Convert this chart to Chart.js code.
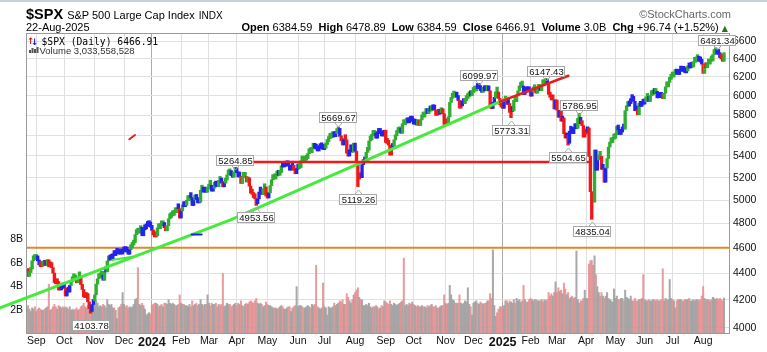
<!DOCTYPE html>
<html><head><meta charset="utf-8">
<script src="https://cdn.jsdelivr.net/npm/chart.js@4.4.1/dist/chart.umd.min.js"></script>
<style>
html,body{margin:0;padding:0;background:#fff;}
#wrap{position:relative;width:767px;height:352px;overflow:hidden;font-family:"Liberation Sans",Arial,sans-serif;color:#000;}
#topbar{position:absolute;left:0;top:0;width:767px;height:2px;background:#c5d0da;}
canvas{position:absolute;left:0;top:0;}
.t{position:absolute;white-space:nowrap;}
.hdr b{font-weight:bold;}
</style></head><body>
<div id="wrap">
<canvas id="c" width="767" height="352"></canvas>
<div id="topbar"></div>
<div class="t" style="left:26px;top:6px;font-size:14.5px;line-height:16px;"><b>$SPX</b> <span style="font-size:11px">S&amp;P 500 Large Cap Index</span> <span style="font-size:10px">INDX</span></div>
<div class="t" style="left:26px;top:21px;font-size:11px;line-height:13px;">22-Aug-2025</div>
<div class="t" style="right:36px;top:8px;font-size:11px;line-height:13px;color:#666;">&copy;StockCharts.com</div>
<div class="t hdr" style="right:39px;top:21px;font-size:11px;line-height:13px;"><b>Open</b> 6384.59&nbsp; <b>High</b> 6478.89&nbsp; <b>Low</b> 6384.59&nbsp; <b>Close</b> 6466.91&nbsp; <b>Volume</b> 3.0B&nbsp; <b>Chg</b> +96.74 (+1.52%) <span style="font-family:'DejaVu Sans';font-size:8px;color:#2d6e2d">&#9650;</span></div>
</div>
<script>
// ---- DATA (daily closes, trading days from 21-Aug-2023 to 22-Aug-2025) ----
const closes = [
// Aug 2023
4399.77,4387.55,4436.01,4376.31,4405.71,4433.31,4497.63,4514.87,4507.66,
// Sep 2023
4515.77,4496.83,4465.48,4451.14,4457.49,4487.46,4461.90,4467.44,4505.10,4450.32,4453.53,4443.95,4402.20,4330.00,4320.06,4337.44,4273.53,4274.51,4299.70,4288.05,
// Oct 2023
4288.39,4229.45,4263.75,4258.19,4308.50,4335.66,4358.24,4376.95,4349.61,4327.78,4373.63,4373.20,4314.60,4278.00,4224.16,4217.04,4247.68,4186.77,4137.23,4117.37,4166.82,4193.80,
// Nov 2023
4237.86,4317.78,4358.34,4365.98,4378.38,4382.78,4347.35,4415.24,4411.55,4495.70,4502.88,4508.24,4514.02,4547.38,4538.19,4556.62,4559.34,4550.43,4554.89,4550.58,4567.80,
// Dec 2023
4594.63,4569.78,4567.18,4549.34,4585.59,4604.37,4622.44,4643.70,4707.09,4719.55,4719.19,4740.56,4768.37,4698.35,4746.75,4754.63,4774.75,4781.58,4783.35,4769.83,
// Jan 2024
4742.83,4704.81,4688.68,4697.24,4763.54,4756.50,4783.45,4780.24,4783.83,4765.98,4739.21,4780.94,4839.81,4850.43,4864.60,4868.55,4894.16,4890.97,4927.93,4924.97,4845.65,
// Feb 2024
4906.19,4958.61,4942.81,4954.23,4995.06,4997.91,5026.61,5021.84,4953.17,5000.62,5029.73,5005.57,4975.51,4981.80,5087.03,5088.80,5069.53,5078.18,5069.76,5096.27,
// Mar 2024
5137.08,5130.95,5078.65,5104.76,5157.36,5123.69,5117.94,5175.27,5165.31,5150.48,5117.09,5149.42,5178.51,5224.62,5241.53,5234.18,5218.19,5203.58,5248.49,5254.35,
// Apr 2024
5243.77,5205.81,5211.49,5147.21,5204.34,5202.39,5209.91,5160.64,5199.06,5123.41,5061.82,5051.41,5022.21,5011.12,4967.23,5010.60,5070.55,5071.63,5048.42,5099.96,5116.17,5035.69,
// May 2024
5018.39,5064.20,5127.79,5180.74,5187.70,5187.67,5214.08,5222.68,5221.42,5246.68,5308.15,5297.10,5303.27,5308.13,5321.41,5307.01,5267.84,5304.72,5306.04,5266.95,5235.48,5277.51,
// Jun 2024
5283.40,5291.34,5354.03,5352.96,5346.99,5360.79,5375.32,5421.03,5433.74,5431.60,5473.23,5487.03,5473.17,5464.62,5447.87,5469.30,5477.90,5482.87,5460.48,
// Jul 2024
5475.09,5509.01,5537.02,5567.19,5572.85,5576.98,5633.91,5584.54,5615.35,5631.22,5667.20,5588.27,5544.59,5505.00,5564.41,5555.74,5427.13,5399.22,5459.10,5463.54,5436.44,5522.30,
// Aug 2024
5446.68,5346.56,5186.33,5240.03,5199.50,5319.31,5344.16,5344.39,5434.43,5455.21,5543.22,5554.25,5608.25,5597.12,5620.85,5570.64,5634.61,5616.84,5625.80,5592.18,5591.96,5648.40,
// Sep 2024
5528.93,5520.07,5503.41,5408.42,5471.05,5495.52,5554.13,5595.76,5626.02,5633.09,5634.58,5618.26,5713.64,5702.55,5718.57,5732.93,5722.26,5745.37,5738.17,5762.48,
// Oct 2024
5708.75,5709.54,5699.94,5751.07,5695.94,5751.13,5792.04,5780.05,5815.03,5859.85,5815.26,5842.47,5841.47,5864.67,5853.98,5851.20,5797.42,5809.86,5808.12,5823.52,5832.92,5813.67,5705.45,
// Nov 2024
5728.80,5712.69,5782.76,5929.04,5973.10,5995.54,6001.35,5983.99,5985.38,5949.17,5870.62,5893.62,5916.98,5917.11,5948.71,5969.34,5987.37,6021.63,5998.74,6032.38,
// Dec 2024
6047.15,6049.88,6086.49,6075.11,6090.27,6052.85,6034.91,6084.19,6051.25,6051.09,6074.08,6050.61,5872.16,5867.08,5930.85,5974.07,6040.04,6037.59,5970.84,5906.94,5881.63,
// Jan 2025
5868.55,5942.47,5975.38,5909.03,5918.25,5827.04,5836.22,5842.91,5949.91,5937.34,5996.66,6049.24,6086.37,6118.71,6101.24,6012.28,6067.70,6039.31,6071.17,6040.53,
// Feb 2025
5994.57,6037.88,6061.48,6083.57,6025.99,6066.44,6068.50,6051.97,6115.07,6114.63,6129.58,6144.15,6117.52,6013.13,5983.25,5955.25,5956.06,5861.57,5954.50,
// Mar 2025
5849.72,5778.15,5842.63,5738.52,5770.20,5614.56,5572.07,5599.30,5521.52,5638.94,5675.12,5614.66,5675.29,5662.89,5667.56,5767.57,5776.65,5712.20,5693.31,5580.94,5611.85,
// Apr 2025
5633.07,5670.97,5396.52,5074.08,5062.25,4982.77,5456.90,5268.05,5363.36,5405.97,5396.63,5275.70,5282.70,5158.20,5287.76,5375.86,5484.77,5525.21,5528.75,5560.83,5569.06,
// May 2025
5604.14,5686.67,5650.38,5606.91,5631.28,5663.94,5659.91,5844.19,5886.55,5892.58,5916.93,5958.38,5963.60,5940.46,5844.61,5842.01,5802.82,5921.54,5888.55,5912.17,5911.69,
// Jun 2025
5935.94,5970.37,5970.81,5939.30,6000.36,6005.88,6038.81,6022.24,6045.26,5976.97,6033.11,5982.72,5980.87,5967.84,6025.17,6092.18,6092.16,6141.02,6173.07,6204.95,
// Jul 2025
6198.01,6227.42,6279.35,6229.98,6225.52,6263.26,6280.46,6259.75,6268.56,6243.76,6263.70,6297.36,6296.79,6305.60,6309.62,6358.91,6363.35,6388.64,6389.77,6370.86,6362.90,6339.39,
// Aug 2025
6238.01,6329.94,6299.19,6345.06,6340.00,6389.45,6373.45,6445.76,6466.58,6468.54,6449.80,6449.15,6411.37,6395.78,6370.17,6466.91
];

// daily volume, billions of shares
const volumesB = [
2.1,2.0,2.2,2.4,2.1,1.9,2.2,2.1,2.3,
1.9,2.1,2.2,2.1,2.0,2.0,2.1,2.2,2.3,4.2,2.0,2.1,2.3,2.5,2.3,2.1,2.4,2.3,2.2,2.3,
2.2,2.3,2.2,2.1,2.3,2.0,2.1,2.0,2.1,2.2,2.0,2.1,2.3,2.4,2.6,2.3,2.2,2.4,2.5,2.4,2.3,2.6,
2.7,2.8,2.6,2.3,2.4,2.3,2.5,2.4,2.2,2.9,2.5,2.4,2.5,2.2,2.2,2.0,1.3,2.2,2.3,2.5,3.5,
2.5,2.3,2.4,2.2,2.3,2.2,2.3,2.5,2.9,3.0,5.6,2.5,2.4,2.6,2.4,2.1,1.6,1.7,1.8,1.7,
2.4,2.5,2.6,2.6,2.5,2.3,2.4,2.5,2.3,2.6,2.6,2.5,2.9,2.6,2.5,2.6,2.5,2.4,2.4,2.5,3.3,
2.6,2.5,2.5,2.4,2.4,2.3,2.5,2.3,2.8,2.4,2.5,2.6,2.4,2.5,2.9,2.5,2.4,2.5,2.5,3.3,
2.6,2.4,2.6,2.5,2.5,2.6,2.3,2.5,2.4,2.5,5.1,2.3,2.4,2.6,2.5,2.5,2.3,2.4,2.5,2.6,
2.4,2.6,2.5,2.8,2.4,2.3,2.5,2.6,2.5,2.7,2.8,2.7,2.6,2.8,3.0,2.6,2.5,2.6,2.5,2.3,2.4,2.7,
2.5,2.4,2.4,2.3,2.2,2.2,2.2,2.1,2.2,2.3,2.4,2.3,2.1,2.1,2.2,2.3,2.3,1.9,2.2,2.3,2.4,4.0,
2.3,2.4,2.4,2.3,2.2,2.2,2.3,2.4,2.3,2.2,2.5,2.4,2.5,5.8,2.3,2.2,2.1,2.2,4.3,
2.3,2.2,1.6,2.3,2.2,2.2,2.3,2.6,2.4,2.5,2.6,2.8,2.7,2.9,2.5,2.5,3.4,3.1,2.8,2.6,2.9,3.3,
3.5,3.7,3.9,3.1,2.9,2.9,2.4,2.4,2.5,2.4,2.6,2.3,2.2,2.3,2.3,2.4,2.3,2.1,2.2,2.4,2.3,2.8,
2.7,2.6,2.5,2.8,2.5,2.4,2.6,2.5,2.4,2.5,2.6,2.7,2.8,6.4,2.4,2.5,2.4,2.6,2.5,2.7,
2.5,2.4,2.3,2.4,2.3,2.3,2.4,2.3,2.3,2.2,2.4,2.3,2.4,2.5,2.3,2.3,2.4,2.2,2.2,2.3,2.4,2.4,3.3,
2.6,2.5,2.6,4.1,3.3,2.9,2.8,2.6,2.6,2.6,3.3,2.6,2.5,2.6,2.8,2.7,3.9,2.5,2.3,1.6,
2.6,2.7,2.8,2.6,2.5,2.7,2.6,2.5,2.6,2.6,2.8,2.8,3.4,3.0,7.1,2.4,1.5,1.8,2.1,2.3,2.3,
2.1,2.4,2.8,2.8,2.6,2.8,2.7,2.6,2.9,2.6,3.0,2.8,2.9,2.7,2.8,4.1,2.9,2.7,2.7,2.9,
3.0,2.9,2.8,2.9,2.9,2.8,2.8,2.8,2.9,2.7,2.9,2.8,2.9,3.5,3.2,3.4,3.2,3.5,4.4,
3.5,3.9,3.6,3.7,3.4,4.3,3.8,3.3,3.5,3.0,3.1,3.2,3.0,3.1,7.0,2.9,2.6,2.8,2.8,3.0,3.7,
3.0,3.0,5.9,6.2,6.2,5.8,6.6,5.0,4.0,3.5,3.2,3.5,3.2,3.0,3.2,3.5,3.0,2.9,2.8,2.7,3.8,
3.0,3.2,2.9,2.9,3.0,3.0,2.8,3.7,3.1,3.0,2.9,3.2,2.8,2.8,3.0,2.8,2.8,2.9,2.9,3.0,5.0,
2.9,2.8,2.8,2.9,2.8,2.8,2.9,2.9,2.8,2.9,2.8,2.8,2.9,5.5,2.8,3.0,2.9,2.9,4.6,3.0,
2.9,2.8,2.2,2.8,2.9,2.9,2.9,2.8,2.8,2.9,2.9,2.9,3.0,2.8,2.8,2.9,2.8,2.9,2.9,2.8,2.9,3.2,
4.0,3.0,2.9,2.9,2.9,2.8,2.9,3.1,3.0,2.9,3.0,2.9,3.0,2.9,2.8,3.03
];

// x-axis month ticks (trading-day index of first session of each month)
const monthTickIndex = [9,29,51,72,92,113,133,153,175,197,216,238,260,280,303,323,344,364,383,404,425,446,466,488];
const monthTickLabels = ['Sep','Oct','Nov','Dec','2024','Feb','Mar','Apr','May','Jun','Jul','Aug','Sep','Oct','Nov','Dec','2025','Feb','Mar','Apr','May','Jun','Jul','Aug'];
const priceTicks = [4000,4200,4400,4600,4800,5000,5200,5400,5600,5800,6000,6200,6400,6600];
const volumeTicksB = [2,4,6,8];

// annotated swing highs / lows
const pivotIndex = [48,152,167,226,240,327,350,375,391,399,408,498];
const pivotValue = [4103.78,5264.85,4953.56,5669.67,5119.26,6099.97,5773.31,6147.43,5504.65,5786.95,4835.04,6481.34];
const pivotSide  = ['low','high','low','high','low','high','low','high','low','high','low','high'];

// drawn trend lines (trading-day index, price)
const greenTrendIdx = [-17.1,148.1,347.8];
const greenTrendPrice = [4142,4829,5975];
const redTrendIdx = [342.1,391.2];
const redTrendPrice = [5937,6212];
const redLevelIdx = [140,405.5];
const redLevelPrice = 5344;
const orangeLevelPrice = 4600;
const minorGreenIdx = [63.6,77.9], minorGreenPrice = [4503,4530];
const minorBlueIdx = [120.6,127.8], minorBluePrice = [4708,4708];
const minorRedIdx = [75.8,79.9], minorRedPrice = [5560,5601];

// ---- derived styling ----
const F = "'Liberation Sans', Arial, sans-serif";
function ema(arr, n){ const k = 2/(n+1); const out=[arr[0]]; for(let i=1;i<arr.length;i++) out.push(arr[i]*k + out[i-1]*(1-k)); return out; }
const e13 = ema(closes,13), e12 = ema(closes,12), e26 = ema(closes,26);
const macd = e12.map((v,i)=>v-e26[i]);
const sig = ema(macd,9);
const hist = macd.map((v,i)=>v-sig[i]);
const GREEN='#2fae2f', RED='#f01818', BLUE='#2323ee';
const barColors = closes.map((c,i)=>{
  if(i===0) return BLUE;
  const eu = e13[i]>e13[i-1], hu = hist[i]>hist[i-1];
  const ed = e13[i]<e13[i-1], hd = hist[i]<hist[i-1];
  return (eu&&hu)?GREEN:((ed&&hd)?RED:BLUE);
});
const pivotMap = {}; pivotIndex.forEach((ix,k)=>pivotMap[ix]=pivotValue[k]);
const priceData = closes.map((c,i)=>{
  const p = i>0?closes[i-1]:c;
  let lo = Math.min(p,c), hi = Math.max(p,c);
  if(pivotMap[i]!==undefined){ lo=Math.min(lo,pivotMap[i]); hi=Math.max(hi,pivotMap[i]); }
  return {x:i, y:[lo,hi]};
});
const volData = volumesB.map((v,i)=>({x:i, y:v*1e9}));
const volColors = closes.map((c,i)=> (i>0 && c<closes[i-1]) ? 'rgba(228,140,142,0.85)' : 'rgba(160,160,160,0.9)');
const yearSet = new Set(monthTickLabels.map((l,i)=>/^\d{4}$/.test(l)?i:-1).filter(i=>i>=0));

const overlay = {
  id:'overlay',
  beforeDatasetsDraw(chart){
    const {ctx, chartArea:a, scales} = chart;
    const y = scales.yP.getPixelForValue(orangeLevelPrice);
    ctx.save(); ctx.strokeStyle='#e3862b'; ctx.lineWidth=2;
    ctx.beginPath(); ctx.moveTo(a.left,y); ctx.lineTo(a.right,y); ctx.stroke(); ctx.restore();
  },
  afterDatasetsDraw(chart){
    const {ctx, chartArea:a, scales} = chart;
    const X = v=>scales.x.getPixelForValue(v), Y = v=>scales.yP.getPixelForValue(v);
    ctx.save();
    ctx.strokeStyle='#9a9a9a'; ctx.lineWidth=1;
    ctx.strokeRect(a.left+0.5,a.top+0.5,a.right-a.left-1,a.bottom-a.top-1);
    function poly(ix, pr, color, w){
      ctx.strokeStyle=color; ctx.lineWidth=w; ctx.lineCap='round';
      ctx.beginPath(); ix.forEach((v,k)=>{ const px=X(v), py=Y(pr[k]); k?ctx.lineTo(px,py):ctx.moveTo(px,py); }); ctx.stroke();
    }
    poly(greenTrendIdx, greenTrendPrice, '#45ea3c', 3);
    poly(minorGreenIdx, minorGreenPrice, '#45ea3c', 2);
    poly(minorBlueIdx, minorBluePrice, '#2323ee', 2);
    poly(minorRedIdx, minorRedPrice, '#f01818', 2);
    poly(redTrendIdx, redTrendPrice, '#f01818', 2.5);
    poly(redLevelIdx, [redLevelPrice, redLevelPrice], '#f01818', 2.5);
    ctx.restore();
  },
  afterDraw(chart){
    const {ctx, chartArea:a, scales} = chart;
    const X = v=>scales.x.getPixelForValue(v), Y = v=>scales.yP.getPixelForValue(v);
    ctx.save();
    // legend lines
    ctx.font = "bold 9px 'DejaVu Sans'"; ctx.textBaseline='alphabetic';
    ctx.fillStyle='#e01010'; ctx.fillText('\u2191',27,44);
    ctx.fillStyle='#1818d8'; ctx.fillText('\u2193',31,45);
    ctx.fillStyle='#000'; ctx.font = "9.7px 'DejaVu Sans Mono'";
    ctx.fillText('$SPX (Daily) 6466.91', 41.5, 44.5);
    ctx.fillStyle='#555';
    [[29,50,2,3],[31.5,48,2,5],[34,49,2,4],[36.5,47,2,6]].forEach(r=>ctx.fillRect(r[0],r[1],r[2],r[3]));
    ctx.fillStyle='#333'; ctx.font = "9.5px "+F;
    ctx.fillText('Volume 3,033,558,528', 39.5, 53.5);
    // pivot labels
    ctx.font = "9.5px "+F; ctx.textAlign='center'; ctx.textBaseline='middle';
    pivotIndex.forEach((ix,k)=>{
      const px = Math.round(X(ix)), py = Y(pivotValue[k]);
      const txt = pivotValue[k].toFixed(2);
      const w = Math.round(ctx.measureText(txt).width)+4, h = 11;
      const top = pivotSide[k]==='high' ? Math.round(py-5-h) : Math.round(py+7);
      const left = px - Math.round(w/2);
      ctx.fillStyle='#fff'; ctx.fillRect(left,top,w,h);
      ctx.strokeStyle='#a8a8a8'; ctx.lineWidth=1; ctx.strokeRect(left+0.5,top+0.5,w-1,h-1);
      ctx.beginPath();
      if(pivotSide[k]==='high'){ ctx.moveTo(px-3,top+h); ctx.lineTo(px+0.5,top+h+4); ctx.lineTo(px+4,top+h); }
      else { ctx.moveTo(px-3,top); ctx.lineTo(px+0.5,top-4); ctx.lineTo(px+4,top); }
      ctx.stroke();
      ctx.fillStyle='#111'; ctx.fillText(txt, px+0.5, top+h/2+0.5);
    });
    ctx.restore();
  }
};

new Chart(document.getElementById('c'), {
  type:'bar',
  data:{ datasets:[
    { type:'bar', label:'Volume', yAxisID:'yV', data:volData, backgroundColor:volColors, grouped:false,
      barPercentage:1, categoryPercentage:1, order:2, borderWidth:0 },
    { type:'bar', label:'$SPX', yAxisID:'yP', data:priceData, backgroundColor:barColors, grouped:false,
      barThickness:2.7, minBarLength:5, order:1, borderWidth:0 }
  ]},
  options:{
    responsive:false, animation:false, events:[],
    layout:{ padding:{ top:33, left:0, right:0, bottom:0 } },
    plugins:{ legend:{display:false}, tooltip:{enabled:false}, title:{display:false} },
    scales:{
      x:{ type:'linear', min:1.6, max:507.3, offset:false,
        afterBuildTicks:s=>{ s.ticks = monthTickIndex.map(v=>({value:v})); },
        afterFit:s=>{ s.height = 18; },
        grid:{ offset:false, drawTicks:false, color:c=> yearSet.has(c.index)?'#ababab':'#e0e0e0', lineWidth:1 },
        border:{ display:false },
        ticks:{ autoSkip:false, maxRotation:0, padding:1, color:'#111',
          callback:(v,i)=>monthTickLabels[i],
          font:c=> yearSet.has(c.index)?{family:F,size:12.5,weight:'bold'}:{family:F,size:10.5} }
      },
      yP:{ type:'logarithmic', position:'right', min:3958, max:6693,
        afterBuildTicks:s=>{ s.ticks = priceTicks.map(v=>({value:v})); },
        afterFit:s=>{ s.width = 37; },
        grid:{ drawTicks:false, color:'#e0e0e0' },
        border:{ display:false },
        ticks:{ autoSkip:false, padding:3, color:'#111', font:{family:F,size:10.5}, callback:v=>String(v) }
      },
      yV:{ type:'linear', position:'left', min:0, max:25.4e9,
        afterBuildTicks:s=>{ s.ticks = volumeTicksB.map(v=>({value:v*1e9})); },
        afterFit:s=>{ s.width = 26; },
        grid:{ display:false, drawTicks:false },
        border:{ display:false },
        ticks:{ autoSkip:false, padding:3, color:'#111', font:{family:F,size:10.5}, callback:v=>(Math.round(v/1e9))+'B' }
      }
    }
  },
  plugins:[overlay]
});
</script>
</body></html>
